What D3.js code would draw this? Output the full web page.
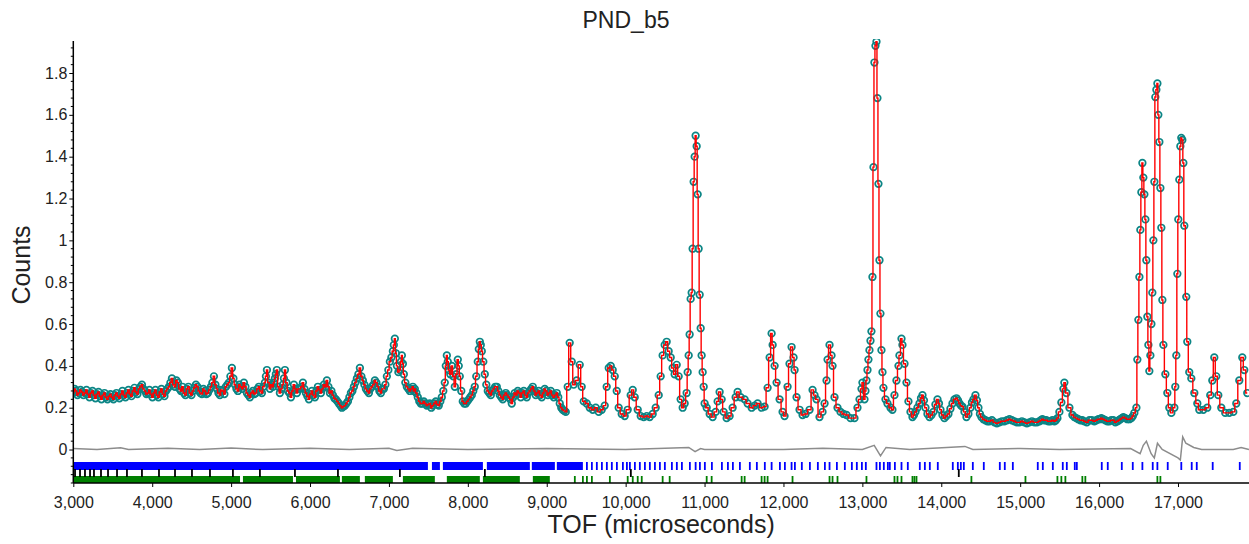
<!DOCTYPE html>
<html>
<head>
<meta charset="utf-8">
<script src="https://cdn.jsdelivr.net/npm/d3@7"></script>
<style>
  body { margin: 0; background: #fff; }
  text { font-family: "Liberation Sans", Arial, sans-serif; fill: #222; }
</style>
</head>
<body>
<svg id="chart" width="1249" height="544"></svg>
<script>
// Observed profile: time of flight (microseconds) and normalised counts
const tofUs = [
  3000,3034,3072,3110,3148,3186,3224,3262,3300,3338,
  3376,3414,3452,3490,3528,3566,3604,3642,3680,3718,
  3756,3794,3832,3870,3908,3946,3984,4022,4060,4098,
  4136,4174,4212,4250,4288,4326,4364,4402,4440,4478,
  4516,4554,4592,4630,4668,4706,4744,4782,4820,4858,
  4896,4934,4972,5010,5048,5086,5124,5162,5200,5238,
  5276,5314,5352,5390,5428,5454,5492,5530,5555,5580,
  5618,5656,5682,5720,5758,5796,5834,5872,5910,5948,
  5986,6024,6062,6100,6138,6176,6214,6252,6290,6328,
  6366,6404,6442,6480,6518,6556,6594,6632,6670,6708,
  6746,6784,6822,6860,6898,6936,6974,7012,7050,7075,
  7101,7139,7164,7189,7227,7265,7303,7328,7366,7404,
  7442,7480,7518,7556,7594,7632,7670,7708,7734,7759,
  7797,7835,7873,7898,7936,7974,8012,8050,8088,8126,
  8152,8177,8215,8253,8291,8329,8367,8405,8443,8481,
  8519,8557,8595,8633,8671,8709,8747,8785,8823,8861,
  8899,8937,8975,9013,9051,9089,9127,9165,9203,9241,
  9266,9291,9317,9342,9380,9418,9443,9469,9507,9545,
  9583,9621,9659,9697,9735,9760,9786,9811,9836,9862,
  9887,9912,9950,9988,10026,10064,10090,10115,10153,10191,
  10229,10267,10305,10343,10381,10419,10444,10469,10495,10520,
  10545,10571,10596,10621,10647,10672,10697,10723,10748,10773,
  10786,10799,10811,10824,10837,10849,10862,10875,10887,10900,
  10913,10925,10938,10951,10963,10976,10989,11001,11027,11065,
  11103,11141,11166,11191,11217,11242,11280,11318,11356,11394,
  11419,11457,11508,11546,11597,11635,11673,11723,11761,11799,
  11825,11850,11863,11888,11913,11951,11989,12014,12052,12077,
  12103,12128,12141,12166,12204,12242,12280,12331,12369,12394,
  12419,12457,12495,12521,12546,12559,12584,12609,12622,12647,
  12685,12723,12761,12799,12850,12900,12938,12964,12989,13001,
  13027,13039,13052,13065,13077,13090,13103,13115,13128,13141,
  13153,13166,13179,13191,13204,13217,13229,13242,13255,13267,
  13293,13318,13356,13381,13407,13432,13458,13470,13496,13508,
  13534,13559,13584,13610,13635,13673,13724,13762,13800,13851,
  13901,13952,13990,14040,14091,14142,14193,14231,14269,14319,
  14370,14408,14433,14471,14509,14560,14610,14674,14737,14800,
  14864,14927,14990,15054,15117,15181,15244,15282,15332,15383,
  15434,15472,15497,15522,15548,15560,15586,15624,15662,15712,
  15763,15814,15877,15940,15991,16029,16080,16130,16181,16232,
  16270,16308,16359,16409,16447,16473,16485,16498,16511,16523,
  16536,16549,16561,16574,16587,16599,16612,16625,16637,16650,
  16663,16675,16688,16701,16713,16726,16739,16751,16764,16777,
  16789,16802,16815,16840,16865,16890,16916,16954,16966,16979,
  16992,17004,17017,17030,17042,17055,17068,17080,17105,17118,
  17143,17169,17207,17245,17270,17321,17371,17409,17435,17460,
  17485,17511,17549,17599,17650,17701,17739,17777,17815,17840,
  17878
];
const counts = [
  .27,.28,.27,.275,.27,.265,.27,.26,.265,.255,
  .26,.25,.255,.25,.26,.255,.265,.26,.27,.265,
  .28,.275,.29,.31,.28,.27,.265,.27,.26,.275,
  .265,.28,.3,.34,.3,.32,.28,.27,.29,.27,
  .28,.31,.28,.265,.28,.27,.3,.35,.29,.26,
  .28,.3,.32,.39,.31,.28,.3,.32,.27,.25,
  .28,.27,.3,.27,.32,.38,.29,.3,.34,.38,
  .27,.31,.38,.28,.25,.31,.27,.29,.32,.27,
  .24,.28,.25,.3,.27,.31,.33,.27,.26,.24,
  .22,.2,.21,.23,.27,.3,.34,.39,.33,.29,
  .27,.3,.33,.3,.27,.29,.35,.42,.47,.53,
  .4,.38,.45,.36,.3,.28,.3,.29,.25,.22,
  .23,.21,.22,.21,.23,.21,.25,.32,.45,.38,
  .4,.3,.43,.35,.23,.22,.24,.26,.3,.42,
  .515,.47,.36,.28,.26,.29,.3,.26,.24,.27,
  .25,.22,.27,.28,.25,.28,.25,.28,.3,.26,
  .28,.25,.29,.26,.28,.25,.27,.22,.19,.18,
  .3,.51,.42,.31,.33,.405,.3,.23,.22,.2,
  .19,.2,.18,.19,.21,.3,.39,.4,.38,.35,
  .28,.2,.17,.16,.19,.26,.285,.25,.19,.16,
  .155,.16,.155,.17,.2,.26,.35,.45,.5,.515,
  .47,.44,.39,.36,.405,.35,.24,.2,.22,.27,
  .37,.45,.55,.72,.75,.96,1.28,1.4,1.5,1.45,
  1.22,.96,.74,.58,.45,.37,.3,.22,.2,.17,
  .155,.18,.23,.275,.24,.18,.15,.16,.2,.25,
  .275,.25,.24,.22,.2,.21,.22,.2,.205,.295,
  .44,.555,.5,.4,.32,.24,.18,.16,.3,.41,
  .49,.44,.38,.25,.19,.165,.17,.19,.285,.26,
  .24,.155,.18,.22,.33,.43,.5,.45,.4,.25,
  .2,.18,.17,.165,.15,.15,.2,.24,.29,.32,
  .24,.28,.33,.38,.43,.475,.52,.565,.825,1.35,
  1.85,1.93,1.95,1.68,1.27,.905,.65,.475,.37,.295,
  .24,.22,.2,.19,.26,.33,.4,.45,.53,.5,
  .41,.32,.23,.18,.155,.18,.22,.26,.2,.155,
  .18,.24,.19,.15,.17,.22,.245,.22,.205,.155,
  .2,.24,.26,.2,.155,.14,.135,.13,.13,.135,
  .145,.135,.13,.13,.13,.13,.135,.145,.14,.135,
  .135,.15,.18,.225,.29,.32,.27,.2,.165,.15,
  .14,.135,.14,.135,.145,.15,.14,.135,.14,.135,
  .145,.155,.145,.15,.175,.2,.43,.62,.825,1.05,
  1.23,1.37,1.3,1.22,1.1,.905,.635,.5,.375,.45,
  .6,.75,1.0,1.28,1.685,1.72,1.75,1.6,1.47,1.25,
  1.06,.715,.5,.36,.27,.2,.175,.2,.3,.45,
  .84,1.1,1.29,1.45,1.49,1.48,1.37,1.07,.73,.515,
  .37,.34,.27,.22,.19,.19,.2,.26,.33,.44,
  .35,.26,.2,.175,.175,.18,.22,.33,.44,.38,
  .27
];

// Intermediate channels where the data are densest (scatter around the background)
const tofFine = [
  3017,3053,3091,3129,3167,3205,3243,3281,3319,3357,
  3395,3433,3471,3509,3547,3585,3623,3661,3699,3737,
  3775,3813,3851,3889,3927,3965,4003,4041,4079,4117,
  4155,4193,4231,4269,4307,4345,4383,4421,4459,4497,
  4535,4573,4611,4649,4687,4725,4763,4801,4839,4877,
  4915,4953,4991,5029,5067,5105,5143,5181,5219,5257,
  5295,5333,5371,5409,5441,5473,5511,5542,5567,5599,
  5637,5669,5701,5739,5777,5815,5853,5891,5929,5967,
  6005,6043,6081,6119,6157,6195,6233,6271,6309,6347,
  6385,6423,6461,6499,6537,6575,6613,6651,6689,6727,
  6765,6803,6841,6879,6917,6955,6993,7031,7062,7088,
  7120,7152,7177,7208,7246,7284,7316,7347,7385,7423,
  7461,7499,7537,7575,7613,7651,7689,7721,7746,7778,
  7816,7854,7885,7917,7955,7993,8031,8069,8107,8139,
  8164,8196,8234,8272,8310,8348,8386,8424,8462,8500,
  8538,8576,8614,8652,8690,8728,8766,8804,8842,8880,
  8918,8956,8994,9032,9070,9108,9146,9184,9222,
  13654,13698,13743,13781,13825,13876,13926,13971,14015,14065,
  14116,14167,14212,14250,14294,14344,14389,14452,14490,14535,
  14585,14642,14705,14768,14832,14895,14958,15022,15085,15149,
  15212,15263,15307,15357,15408,15453,
  15687,15737,15788,15845,15908,15965,16010,16054,16105,16155,
  16206,16251,16289,16333,16384,16428
];
const countsFine = [
  .29,.26,.285,.26,.285,.25,.28,.245,.275,.24,
  .27,.24,.265,.24,.27,.245,.28,.25,.285,.255,
  .295,.265,.3,.29,.265,.285,.25,.285,.25,.29,
  .255,.29,.32,.31,.33,.29,.3,.26,.3,.26,
  .295,.3,.27,.29,.265,.285,.32,.31,.27,.285,
  .265,.31,.35,.34,.29,.31,.29,.3,.26,.27,
  .265,.29,.28,.3,.35,.32,.31,.32,.36,.3,
  .29,.34,.32,.27,.28,.29,.29,.3,.29,.255,
  .265,.26,.28,.285,.29,.3,.3,.28,.245,.23,
  .21,.205,.22,.25,.28,.32,.36,.35,.31,.28,
  .29,.31,.32,.28,.29,.31,.38,.44,.5,.46,
  .37,.42,.41,.32,.29,.29,.28,.27,.23,.22,
  .22,.215,.2,.22,.215,.23,.28,.4,.42,.36,
  .35,.36,.4,.28,.22,.23,.25,.28,.35,.48,
  .5,.42,.31,.27,.28,.3,.28,.25,.26,.26,
  .24,.25,.26,.27,.27,.26,.27,.29,.28,.27,
  .26,.27,.28,.27,.26,.26,.25,.2,.185,
  .165,.2,.245,.235,.17,.165,.215,.22,.165,.16,
  .195,.24,.235,.21,.18,.17,.225,.235,.17,.145,
  .135,.14,.125,.135,.14,.14,.13,.135,.125,.135,
  .13,.14,.14,.135,.14,.14,
  .155,.145,.14,.13,.14,.14,.145,.145,.135,.14,
  .13,.14,.15,.15,.145,.16
];

// Difference curve (observed - calculated)
const diffTof = [3000,3300,3600,3700,4200,4600,5000,5400,6000,6500,7000,7100,7300,8000,9000,10000,
  10800,10880,10950,11000,12000,12500,13000,13150,13230,13300,13600,14300,14400,15000,15500,16400,
  16520,16560,16600,16660,16700,16740,16800,17000,17030,17060,17100,17200,17300,17700,17800,17900];
const diffVal = [.005,0,.008,0,.006,0,.007,0,.006,0,.006,-.005,.006,0,.005,0,
  .01,-.01,.005,0,0,.006,0,.02,-.03,.01,0,.015,0,.005,0,.005,
  -.02,.02,.04,-.02,-.04,.03,0,-.04,-.05,.06,.03,.01,0,0,.01,0];

// Reflection markers, phase 1 (blue): unresolved runs and single positions
const phase1Runs = [[3000,7494],[7545,7646],[7684,8191],[8241,8786],[8811,9103],[9128,9458]];
const phase1Ticks = [9509,9572,9635,9699,9762,9825,9889,9965,10016,10054,10117,10180,10244,10307,
  10371,10434,10497,10586,10649,10713,10814,10887,10941,11004,11093,11220,11296,11359,11448,11574,
  11663,11764,11850,11955,12018,12103,12145,12233,12335,12436,12525,12584,12677,12778,12867,12930,
  12994,13044,13179,13222,13272,13323,13348,13412,13496,13576,13728,13792,13855,13956,14146,14210,
  14248,14286,14400,14539,14742,14805,14907,15223,15287,15414,15540,15591,15692,15718,16034,16110,
  16288,16427,16549,16680,16739,16870,17042,17174,17238,17440,17783];

// Reflection markers, phase 2 (black)
const phase2Ticks = [3022,3085,3148,3212,3262,3351,3440,3554,3680,3870,4086,4289,4504,4732,5023,
  5365,5809,6354,7139,8216,10066,14222];

// Reflection markers, phase 3 (green)
const phase3Runs = [[3000,5113],[5150,5784],[5822,6379],[6404,6632],[6695,7050],[7177,7582],
  [7734,8152],[8191,8659],[8824,9039]];
const phase3Ticks = [9356,9458,9509,9572,9800,10026,10090,10153,10204,10469,10558,11027,11090,
  11470,11508,11723,11761,11799,12115,12584,12622,12685,13052,13407,13445,13496,13635,13660,13686,
  14382,15067,15472,15522,15573,15788,15826,16739,16777];

const xTicks = d3.range(3000, 17001, 1000);
const yTicks = [0, 0.2, 0.4, 0.6, 0.8, 1, 1.2, 1.4, 1.6, 1.8];

(function draw() {
  const svg = d3.select("#chart");
  const left = 73.3, right = 1249, plotTop = 41, plotBottom = 483;

  const x = d3.scaleLinear().domain([3000, 17900]).range([left, right]);
  const y = d3.scaleLinear().domain([-0.16, 1.953]).range([plotBottom, plotTop]);

  svg.append("defs").append("clipPath").attr("id", "plot")
    .append("rect").attr("x", left).attr("y", plotTop - 2)
    .attr("width", right - left).attr("height", plotBottom - plotTop + 2);

  const obs = tofUs.map((t, i) => ({ t, v: counts[i] }))
    .concat(tofFine.map((t, i) => ({ t, v: countsFine[i] })))
    .sort((a, b) => a.t - b.t);
  const g = svg.append("g").attr("clip-path", "url(#plot)");

  // difference curve
  g.append("path")
    .datum(diffTof.map((t, i) => ({ t, v: diffVal[i] })))
    .attr("fill", "none").attr("stroke", "#8c8c8c").attr("stroke-width", 1.5)
    .attr("d", d3.line().x(d => x(d.t)).y(d => y(d.v)));

  // observed points
  g.append("g").selectAll("circle").data(obs).join("circle")
    .attr("cx", d => x(d.t)).attr("cy", d => y(d.v)).attr("r", 3.3)
    .attr("fill", "none").attr("stroke", "#0b8585").attr("stroke-width", 1.7);

  // calculated profile
  g.append("path").datum(obs)
    .attr("fill", "none").attr("stroke", "#ff0000").attr("stroke-width", 1.4)
    .attr("d", d3.line().x(d => x(d.t)).y(d => y(d.v)).curve(d3.curveStep));

  // reflection markers
  function runs(list, color, y0, y1) {
    g.append("g").selectAll("rect").data(list).join("rect")
      .attr("x", d => x(d[0])).attr("width", d => Math.max(1.5, x(d[1]) - x(d[0])))
      .attr("y", y0).attr("height", y1 - y0).attr("fill", color);
  }
  function ticks(list, color, y0, y1) {
    g.append("g").selectAll("line").data(list).join("line")
      .attr("x1", d => x(d)).attr("x2", d => x(d)).attr("y1", y0).attr("y2", y1)
      .attr("stroke", color).attr("stroke-width", 1.8);
  }
  runs(phase1Runs, "#0000ff", 462, 470);
  ticks(phase1Ticks, "#0000ff", 462, 470);
  runs(phase3Runs, "#008000", 476, 483);
  ticks(phase3Ticks, "#008000", 476, 483);
  ticks(phase2Ticks, "#000000", 469, 477);

  // axes
  const xAxis = svg.append("g").attr("transform", `translate(0,${plotBottom})`)
    .call(d3.axisBottom(x).tickValues(xTicks).tickSize(4).tickFormat(d3.format(",")));
  xAxis.selectAll("text").attr("dy", "1.1em").style("font-size", "16px");

  const yAxis = svg.append("g").attr("transform", `translate(${left},0)`)
    .call(d3.axisLeft(y).tickValues(yTicks).tickSize(4).tickFormat(d => String(+d.toFixed(1))));
  yAxis.selectAll("text").style("font-size", "16px").attr("x", -6);

  // minor y ticks every 0.04
  const minor = d3.range(-0.16, 1.95, 0.04).filter(v => yTicks.every(t => Math.abs(t - v) > 1e-6));
  svg.append("g").selectAll("line").data(minor).join("line")
    .attr("x1", left - 2.5).attr("x2", left).attr("y1", d => y(d)).attr("y2", d => y(d))
    .attr("stroke", "#000").attr("stroke-width", 1);

  [xAxis, yAxis].forEach(a => {
    a.select(".domain").attr("stroke", "#000").attr("stroke-width", 1.5);
    a.selectAll(".tick line").attr("stroke", "#000");
  });
  xAxis.select(".domain").attr("d", `M${left},0H${right}`);
  yAxis.select(".domain").attr("d", `M0,${plotTop}V${plotBottom}`);

  svg.append("text").attr("x", 626).attr("y", 28).attr("text-anchor", "middle")
    .style("font-size", "23px").text("PND_b5");
  svg.append("text").attr("x", (left + right) / 2).attr("y", 533).attr("text-anchor", "middle")
    .style("font-size", "25px").text("TOF (microseconds)");
  svg.append("text").attr("transform", "translate(30,265) rotate(-90)").attr("text-anchor", "middle")
    .style("font-size", "25px").text("Counts");
})();
</script>
</body>
</html>
